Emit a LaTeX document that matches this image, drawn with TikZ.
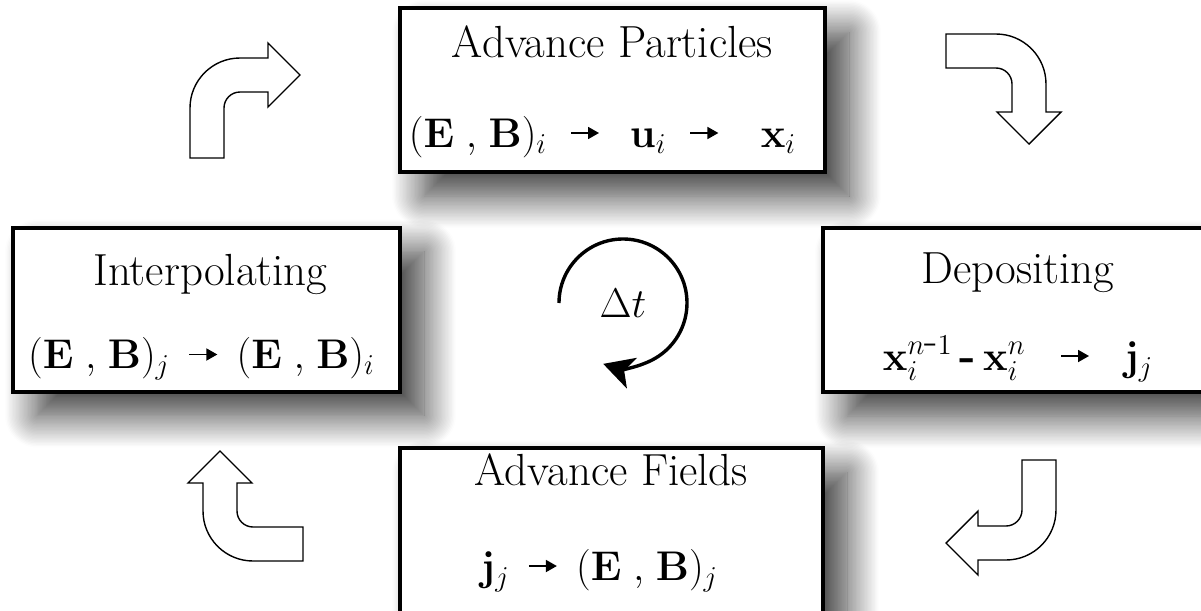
\documentclass[tikz,border=0pt]{standalone}
\usepackage{amsmath}
\usetikzlibrary{arrows.meta,calc,shadows.blur}

\newcommand{\shortto}{\mathrel{\tikz[baseline=-7pt]\draw[line width=0.9pt,-{Triangle[length=5.5pt,width=6pt]}] (0,0) -- (14pt,0);}}
\newcommand{\EB}{(\mathbf{E}\;{,}\;\mathbf{B})}

\tikzset{
  stage/.style={draw=black, line width=2pt, fill=white, inner sep=0pt, outer sep=0pt,
    minimum height=82pt,
    blur shadow={shadow xshift=12pt, shadow yshift=-12pt, shadow blur radius=16pt,
      shadow blur steps=24, shadow opacity=78}},
  title/.style={anchor=base, inner sep=0pt, font=\fontsize{22.5}{27}\selectfont},
  formula/.style={anchor=base, inner sep=0pt, font=\fontsize{22}{26}\selectfont},
  bendline/.style={draw=black, line width=0.7pt, fill=white, line join=miter},
  cyclearrow/.style={line width=1.7pt, -{Stealth[length=15pt,width=16pt,inset=4pt]}},
  pics/bendarrow/.style={code={
    \path[bendline] (0,0) -- (34,0) -- (34,50) arc[start angle=180, end angle=90, radius=16]
      -- (78,66) -- (78,51) -- (110,83) -- (78,115) -- (78,100) -- (50,100)
      arc[start angle=90, end angle=180, radius=50] -- cycle;
  }}
}

\begin{document}
\begin{tikzpicture}[x=0.5pt, y=0.5pt]
  \path[use as bounding box, clip] (0,0) rectangle (1201,-611);

  % the four stages
  \node[stage, minimum width=212.5pt] (particles) at (612.5,-90) {};
  \node[stage, minimum width=193.5pt] (interp) at (206.5,-309.5) {};
  \node[stage, minimum width=195pt] (deposit) at (1018,-310) {};
  \node[stage, minimum width=211.5pt, minimum height=85pt] (fields) at (611.5,-533) {};

  \node[title] (particlesT) at ($(particles.north)+(0,-49)$) {Advance Particles};
  \node[formula] (particlesF) at ($(particles.north)+(-10,-139)$)
    {$\EB_i \;\shortto\;\, \mathbf{u}_i \;\shortto\;\;\, \mathbf{x}_i$};

  \node[title] (interpT) at ($(interp.north)+(4,-58)$) {Interpolating};
  \node[formula] (interpF) at ($(interp.north)+(-5,-141)$)
    {$\EB_j \,\shortto\, \EB_i$};

  \node[title] (depositT) at ($(deposit.north)+(0,-55)$) {Depositing};
  \node[formula] (depositF) at ($(deposit.north)+(0,-142)$)
    {$\mathbf{x}_i^{n\mbox{-}1}\,\mbox{\bfseries -}\,\mathbf{x}_i^{n} \;\;\shortto\;\; \mathbf{j}_j$};

  \node[title] (fieldsT) at ($(fields.north)+(0,-37)$) {Advance Fields};
  \node[formula] (fieldsF) at ($(fields.north)+(-12,-132)$)
    {$\mathbf{j}_j \,\shortto\, \EB_j$};

  % time step
  \node[font=\fontsize{20}{24}\selectfont, inner sep=0pt] (dt) at (623,-303) {$\Delta t$};
  \draw[cyclearrow] ($(dt.center)+(180:64)$) arc[start angle=180, end angle=-108, radius=64];

  % bent block arrows
  \pic (arrowTL) at (190,-158) {bendarrow};
  \pic[rotate=-90] (arrowTR) at (946,-34) {bendarrow};
  \pic[rotate=180] (arrowBR) at (1056,-460) {bendarrow};
  \pic[rotate=90] (arrowBL) at (303,-561) {bendarrow};
\end{tikzpicture}
\end{document}
